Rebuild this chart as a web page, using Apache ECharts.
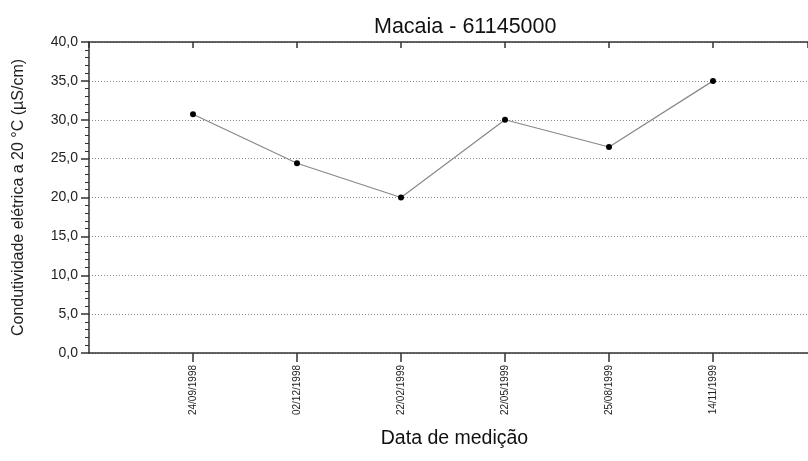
<!DOCTYPE html>
<html>
<head>
<meta charset="utf-8">
<script src="https://cdn.jsdelivr.net/npm/echarts@6/dist/echarts.min.js"></script>
<style>
  html, body { margin: 0; padding: 0; background: #fff; }
  #chart { width: 808px; height: 461px; }
</style>
</head>
<body>
<div id="chart"></div>
<script>
// Measurement dates and conductivity readings (µS/cm at 20 °C)
const dates = ['24/09/1998', '02/12/1998', '22/02/1999', '22/05/1999', '25/08/1999', '14/11/1999'];
const conductivity = [30.7, 24.4, 20.0, 30.0, 26.5, 35.0];
const yTicks = [0, 5, 10, 15, 20, 25, 30, 35, 40];

const FONT = 'Liberation Sans, Arial, sans-serif';

// Dates sit at positions 1..n on a numeric axis so that the axis starts one step before the first date
const points = conductivity.map((v, i) => [i + 1, v]);

const chart = echarts.init(document.getElementById('chart'), null, { renderer: 'canvas' });

const xMax = 719 / 104;

const option = {
  backgroundColor: '#ffffff',
  animation: false,
  title: {
    text: 'Macaia - 61145000',
    left: 369,
    top: 11,
    textStyle: { fontFamily: FONT, fontSize: 21.5, fontWeight: 'normal', color: '#111' }
  },
  grid: { left: 89, right: 0, top: 42, bottom: 108, containLabel: false, outerBoundsMode: 'none' },
  xAxis: [
    {
      type: 'value',
      position: 'bottom',
      min: 0,
      max: xMax,
      interval: 1,
      name: 'Data de medição',
      nameLocation: 'middle',
      nameGap: 76,
      nameTextStyle: { fontFamily: FONT, fontSize: 19.5, color: '#111', padding: [0, 0, 0, 12] },
      axisLine: { show: true, onZero: false, lineStyle: { color: '#333', width: 1.5 } },
      axisTick: { show: true, length: 9, lineStyle: { color: '#333', width: 1.5 } },
      axisLabel: {
        rotate: 90,
        margin: 12,
        fontFamily: FONT,
        fontSize: 10,
        color: '#222',
        showMinLabel: false,
        showMaxLabel: false,
        formatter: v => (Number.isInteger(v) && v >= 1 && v <= dates.length) ? dates[v - 1] : ''
      },
      splitLine: { show: false }
    },
    {
      type: 'value',
      position: 'top',
      min: 0,
      max: xMax,
      interval: 1,
      axisLine: { show: true, onZero: false, lineStyle: { color: '#333', width: 1.5 } },
      axisTick: { show: true, inside: true, length: 6, lineStyle: { color: '#333', width: 1.5 } },
      axisLabel: { show: false },
      splitLine: { show: false }
    }
  ],
  yAxis: {
    type: 'value',
    min: yTicks[0],
    max: yTicks[yTicks.length - 1],
    interval: 5,
    axisLine: { show: true, onZero: false, lineStyle: { color: '#333', width: 1.5 } },
    axisTick: { show: true, length: 8, lineStyle: { color: '#333', width: 1.5 } },
    minorTick: { show: true, splitNumber: 5, length: 4, lineStyle: { color: '#333', width: 1 } },
    axisLabel: {
      margin: 11,
      fontFamily: FONT,
      fontSize: 14,
      color: '#222',
      formatter: v => v.toFixed(1).replace('.', ',')
    },
    splitLine: { show: true, lineStyle: { color: '#888', type: [1, 2], width: 1 } },
    name: 'Condutividade elétrica a 20 °C (µS/cm)',
    nameLocation: 'middle',
    nameGap: 62,
    nameTextStyle: { fontFamily: FONT, fontSize: 16, color: '#222' }
  },
  series: [
    {
      type: 'line',
      data: points,
      symbol: 'circle',
      symbolSize: 6,
      itemStyle: { color: '#000' },
      lineStyle: { color: '#888', width: 1.2 },
      z: 5
    }
  ]
};

chart.setOption(option);
</script>
</body>
</html>
